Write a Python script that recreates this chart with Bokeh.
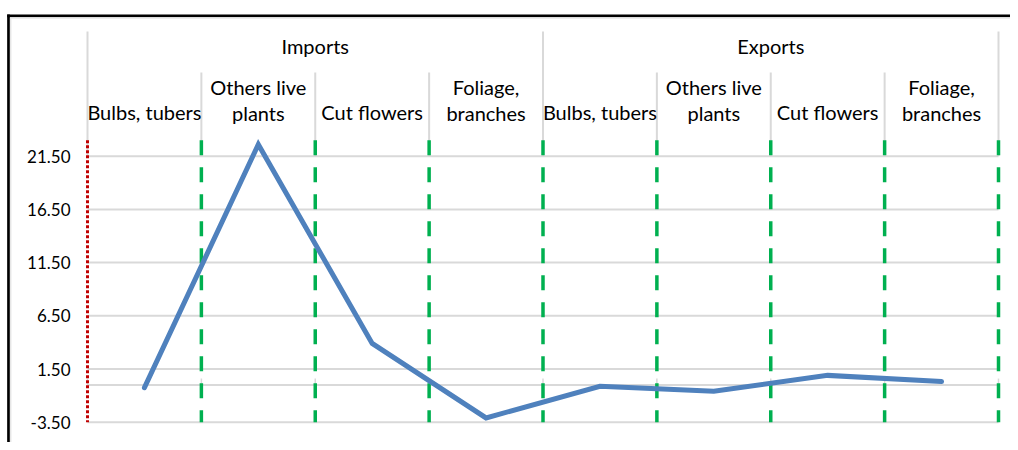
from bokeh.plotting import figure
from bokeh.models import Range1d
from bokeh.core.properties import value
from bokeh.embed import file_html
from bokeh.resources import INLINE

# ---- data ----
groups = ["Imports", "Exports"]
categories = ["Bulbs, tubers", "Others live\nplants", "Cut flowers", "Foliage,\nbranches"]
imports_vals = [-0.25, 22.6, 3.9, -3.1]
exports_vals = [-0.12, -0.6, 0.9, 0.32]
y_ticks = [-3.5, 1.5, 6.5, 11.5, 16.5, 21.5]
y_max = 23.0

# ---- layout constants (pixel mapping) ----
W, H = 1010, 442
PAGE = 0
X0_PAGE = 87.0          # x of category axis start
UNIT_X = 113.875        # px per category
ZERO_PAGE = 384.46      # y of value 0
UNIT_Y = 10.64          # px per value unit

def px_to_x(px):
    return (px - X0_PAGE) / UNIT_X

def py_to_v(py):
    return (ZERO_PAGE - py) / UNIT_Y

FONT = "Lato"

p = figure(width=W, height=H, output_backend="svg", toolbar_location=None,
           x_range=Range1d(px_to_x(PAGE), px_to_x(PAGE + W)),
           y_range=Range1d(py_to_v(PAGE + H), py_to_v(PAGE)),
           min_border=0, min_border_left=0, min_border_right=0,
           min_border_top=0, min_border_bottom=0)
p.axis.visible = False
p.grid.visible = False
p.outline_line_color = None
p.background_fill_color = "white"
p.border_fill_color = "white"

n_cat = len(categories) * len(groups)
GRAY = "#D9D9D9"

# chart-area border (left & top visible)
p.segment(x0=[px_to_x(8.0)], y0=[py_to_v(14)], x1=[px_to_x(8.0)], y1=[py_to_v(460)],
          line_color="black", line_width=2.7)
p.segment(x0=[px_to_x(6.7)], y0=[py_to_v(15.4)], x1=[px_to_x(1030)], y1=[py_to_v(15.4)],
          line_color="black", line_width=2.7)
p.segment(x0=[px_to_x(10.2)], y0=[py_to_v(17.5)], x1=[px_to_x(10.2)], y1=[py_to_v(460)],
          line_color="#E6E6E6", line_width=1.5)
p.segment(x0=[px_to_x(9.5)], y0=[py_to_v(17.5)], x1=[px_to_x(1030)], y1=[py_to_v(17.5)],
          line_color="#E6E6E6", line_width=1.5)

# horizontal gridlines
p.segment(x0=[0] * len(y_ticks), y0=y_ticks, x1=[n_cat] * len(y_ticks), y1=y_ticks,
          line_color=GRAY, line_width=2)
# category axis line at zero with small tick marks
p.segment(x0=[0], y0=[0], x1=[n_cat], y1=[0], line_color=GRAY, line_width=2)
bounds = list(range(n_cat + 1))
p.segment(x0=bounds, y0=[0] * len(bounds), x1=bounds, y1=[0.6] * len(bounds),
          line_color=GRAY, line_width=1.5)

# header separators (multi-level category axis)
outer = [0, len(categories), n_cat]
inner = [b for b in bounds if b not in outer]
p.segment(x0=outer, y0=[py_to_v(31)] * len(outer), x1=outer, y1=[21.5] * len(outer),
          line_color=GRAY, line_width=2)
p.segment(x0=inner, y0=[py_to_v(72)] * len(inner), x1=inner, y1=[21.5] * len(inner),
          line_color=GRAY, line_width=2)

# green dashed category dividers
gb = bounds[1:]
p.segment(x0=gb, y0=[y_max] * len(gb), x1=gb, y1=[y_ticks[0]] * len(gb),
          line_color="#00B050", line_width=3.5, line_dash="15 12")
# red dotted value axis
p.segment(x0=[0], y0=[y_max], x1=[0], y1=[y_ticks[0]],
          line_color="#C00000", line_width=3, line_dash="3 2")

# data line
vals = imports_vals + exports_vals
xs = [i + 0.5 for i in range(n_cat)]
p.line(xs, vals, line_color="#4F81BD", line_width=5, line_cap="round", line_join="miter")

# y tick labels
p.text(x=[px_to_x(70)] * len(y_ticks), y=y_ticks, text=[f"{t:.2f}" for t in y_ticks],
       text_align="right", text_baseline="middle", text_font=value(FONT),
       text_font_size="17px", text_color="black")

# group labels
gx = [len(categories) * (g + 0.5) for g in range(len(groups))]
p.text(x=gx, y=[py_to_v(45)] * len(groups), text=groups, text_align="center",
       text_baseline="middle", text_font=value(FONT), text_font_size="20px", text_color="black")

# category labels
lx, ly, lt = [], [], []
for g in range(len(groups)):
    for c, lab in enumerate(categories):
        lines = lab.split("\n")
        x = g * len(categories) + c + 0.5
        if len(lines) == 1:
            lx.append(x); ly.append(py_to_v(111)); lt.append(lines[0])
        else:
            for k, ln in enumerate(lines):
                lx.append(x); ly.append(py_to_v(86 + 26.5 * k)); lt.append(ln)
p.text(x=lx, y=ly, text=lt, text_align="center", text_baseline="middle",
       text_font=value(FONT), text_font_size="20px", text_color="black")

open("out.html", "w").write(file_html(p, INLINE))
